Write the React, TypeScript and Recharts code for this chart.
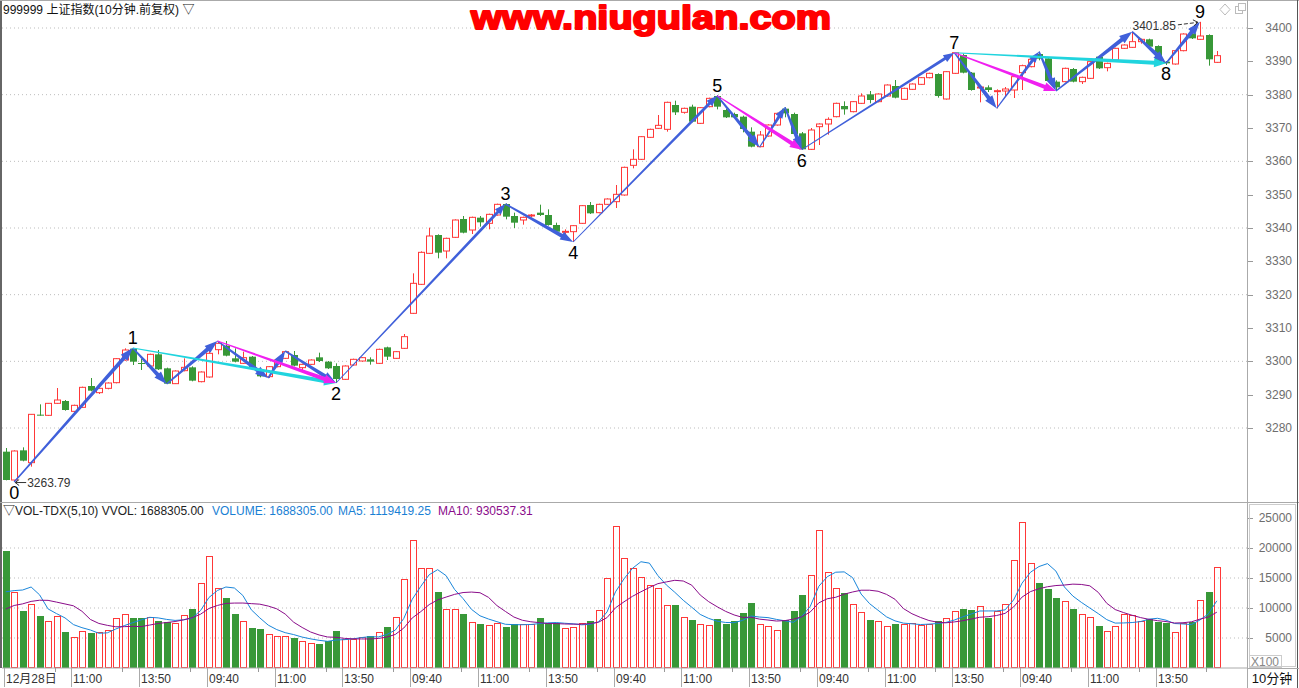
import React from "react";
import {
  ComposedChart,
  Bar,
  Line,
  XAxis,
  YAxis,
  CartesianGrid,
  ReferenceLine,
  ReferenceDot,
} from "recharts";

// 10-minute bars, 6 sessions x 24 bars
const OPEN = [
  3272.9, 3264.4, 3273.3, 3269.6, 3284.0, 3283.8, 3287.4, 3288.1, 3285.0, 3286.2,
  3292.6, 3290.6, 3291.9, 3293.6, 3300.4, 3303.8, 3299.5, 3298.6, 3302.1, 3297.9,
  3293.3, 3297.2, 3298.2, 3293.9, 3295.3, 3303.5, 3304.7, 3300.9, 3299.4, 3301.4,
  3297.5, 3295.4, 3298.4, 3300.9, 3301.9, 3298.1, 3299.1, 3301.2, 3299.9, 3298.6,
  3294.6, 3298.9, 3300.1, 3300.6, 3299.4, 3304.2, 3300.9, 3303.9, 3314.4, 3323.1,
  3332.4, 3337.9, 3333.1, 3337.2, 3342.7, 3339.4, 3343.1, 3341.4, 3343.9, 3347.2,
  3343.6, 3342.4, 3343.7, 3344.6, 3343.9, 3340.9, 3338.8, 3338.9, 3341.4, 3346.9,
  3344.6, 3347.1, 3347.9, 3349.9, 3358.8, 3360.6, 3367.2, 3369.9, 3369.6, 3376.9,
  3374.7, 3376.4, 3371.4, 3376.4, 3379.6, 3375.4, 3374.2, 3373.4, 3368.9, 3364.4,
  3367.6, 3370.9, 3375.8, 3374.2, 3368.4, 3363.6, 3370.4, 3371.2, 3373.4, 3376.6,
  3374.9, 3377.4, 3380.1, 3377.9, 3379.6, 3382.6, 3378.6, 3381.6, 3383.1, 3385.1,
  3386.2, 3378.7, 3386.4, 3391.9, 3386.6, 3382.0, 3382.2, 3380.9, 3381.1, 3381.4,
  3386.6, 3388.4, 3392.2, 3390.9, 3383.9, 3383.9, 3387.7, 3383.9, 3384.9, 3391.4,
  3388.1, 3390.4, 3393.9, 3394.2, 3395.9, 3396.6, 3394.6, 3389.9, 3389.2, 3393.2,
  3398.4, 3396.6, 3397.9, 3389.7,
];
const HIGH = [
  3274.0, 3273.3, 3274.2, 3284.2, 3287.1, 3287.5, 3292.0, 3288.4, 3287.0, 3292.4,
  3295.0, 3292.1, 3293.7, 3301.0, 3303.9, 3304.0, 3300.7, 3302.3, 3303.4, 3298.1,
  3297.3, 3300.9, 3298.5, 3297.0, 3304.4, 3306.1, 3306.1, 3303.9, 3302.9, 3301.6,
  3297.8, 3298.6, 3300.6, 3303.1, 3303.1, 3299.3, 3300.6, 3302.6, 3300.1, 3299.4,
  3298.8, 3300.8, 3301.3, 3301.2, 3303.8, 3304.4, 3303.1, 3308.2, 3326.4, 3333.0,
  3340.1, 3338.1, 3337.1, 3342.6, 3343.6, 3343.4, 3343.6, 3344.3, 3347.3, 3347.4,
  3344.6, 3343.4, 3344.2, 3347.0, 3345.6, 3341.6, 3339.6, 3340.9, 3346.9, 3347.8,
  3347.3, 3348.9, 3352.9, 3358.4, 3363.6, 3367.6, 3369.8, 3373.9, 3377.9, 3378.2,
  3376.1, 3377.0, 3376.3, 3379.1, 3379.9, 3375.8, 3374.6, 3373.7, 3370.2, 3369.1,
  3371.1, 3374.6, 3376.2, 3374.6, 3368.8, 3370.0, 3371.4, 3373.2, 3377.6, 3378.0,
  3378.1, 3380.4, 3381.1, 3380.4, 3383.1, 3384.4, 3382.1, 3383.4, 3385.3, 3386.6,
  3386.4, 3387.1, 3392.7, 3392.3, 3386.8, 3382.5, 3382.8, 3381.6, 3382.3, 3385.9,
  3389.0, 3390.8, 3392.9, 3391.3, 3384.3, 3388.1, 3388.0, 3385.4, 3390.1, 3391.6,
  3389.6, 3394.1, 3395.1, 3398.9, 3396.8, 3396.8, 3394.8, 3390.1, 3393.4, 3398.4,
  3399.9, 3401.85, 3398.1, 3393.1,
];
const LOW = [
  3264.3, 3263.79, 3270.0, 3268.4, 3283.7, 3283.6, 3287.2, 3285.2, 3284.5, 3286.0,
  3291.0, 3290.2, 3291.6, 3293.4, 3300.2, 3298.9, 3297.4, 3298.4, 3297.4, 3293.2,
  3293.2, 3297.0, 3294.0, 3293.7, 3295.1, 3302.1, 3301.5, 3299.7, 3299.2, 3297.7,
  3295.2, 3295.0, 3298.2, 3300.7, 3298.5, 3297.4, 3298.9, 3299.8, 3297.7, 3293.5,
  3294.4, 3298.7, 3299.9, 3299.0, 3299.2, 3300.4, 3300.7, 3303.7, 3314.2, 3322.9,
  3332.2, 3330.9, 3330.9, 3337.0, 3338.4, 3338.2, 3340.4, 3339.6, 3343.7, 3342.6,
  3340.0, 3341.0, 3343.2, 3343.6, 3340.7, 3338.7, 3337.9, 3335.8, 3341.2, 3344.2,
  3344.4, 3346.9, 3346.0, 3349.7, 3357.9, 3360.4, 3367.0, 3369.7, 3368.9, 3373.9,
  3374.3, 3371.7, 3371.2, 3376.2, 3375.6, 3373.0, 3373.0, 3368.7, 3364.2, 3364.2,
  3367.4, 3370.7, 3373.2, 3368.0, 3363.5, 3363.4, 3364.9, 3368.0, 3373.2, 3374.0,
  3374.7, 3377.2, 3377.4, 3377.7, 3379.4, 3378.9, 3378.4, 3381.4, 3382.9, 3384.9,
  3379.1, 3378.5, 3386.2, 3386.4, 3381.2, 3377.7, 3380.8, 3375.9, 3379.3, 3379.0,
  3381.4, 3388.2, 3390.3, 3383.9, 3381.1, 3383.7, 3383.7, 3383.2, 3384.7, 3387.7,
  3387.0, 3390.2, 3393.7, 3394.0, 3395.3, 3394.2, 3389.7, 3388.9, 3389.0, 3393.0,
  3396.7, 3396.4, 3388.7, 3389.5,
];
const CLOSE = [
  3264.4, 3273.1, 3270.2, 3284.1, 3283.9, 3287.4, 3288.4, 3285.4, 3286.8, 3292.2,
  3291.2, 3291.9, 3293.5, 3300.8, 3303.4, 3299.9, 3299.3, 3302.1, 3297.6, 3293.3,
  3297.1, 3298.2, 3294.2, 3296.8, 3302.4, 3305.4, 3301.7, 3299.9, 3301.1, 3297.9,
  3295.5, 3298.4, 3300.4, 3302.9, 3298.7, 3299.1, 3300.4, 3300.1, 3297.9, 3294.7,
  3298.6, 3300.6, 3301.1, 3299.9, 3303.6, 3301.4, 3302.9, 3307.4, 3323.4, 3332.7,
  3337.6, 3332.6, 3336.9, 3342.4, 3338.6, 3343.2, 3341.7, 3344.1, 3347.1, 3343.4,
  3341.6, 3343.2, 3343.9, 3343.9, 3340.9, 3338.9, 3339.0, 3340.7, 3346.7, 3344.4,
  3347.1, 3348.7, 3350.1, 3358.2, 3360.6, 3367.4, 3369.6, 3370.8, 3377.7, 3374.7,
  3375.9, 3371.9, 3376.1, 3378.9, 3376.4, 3373.2, 3373.2, 3369.7, 3364.4, 3367.9,
  3370.9, 3374.4, 3374.4, 3368.2, 3363.6, 3369.4, 3371.2, 3372.6, 3377.4, 3375.6,
  3377.9, 3379.6, 3378.4, 3380.2, 3382.9, 3379.1, 3381.9, 3383.2, 3385.1, 3386.4,
  3379.6, 3386.9, 3392.6, 3386.6, 3381.4, 3382.3, 3381.4, 3381.2, 3381.7, 3385.4,
  3388.7, 3390.6, 3390.8, 3384.1, 3382.2, 3387.9, 3383.9, 3385.2, 3389.9, 3387.9,
  3389.4, 3393.9, 3394.9, 3395.9, 3396.6, 3394.4, 3389.9, 3389.4, 3393.2, 3398.2,
  3396.9, 3397.6, 3390.6, 3391.7,
];
// volume in units of 100 (X100)
const VOLUME = [
  19500, 12600, 9500, 10700, 8670, 7780, 8670, 5940, 5110, 6110,
  5830, 5940, 6330, 8280, 8940, 8280, 8280, 8440, 7830, 7670,
  7440, 8780, 9830, 14110, 18610, 13280, 11670, 9000, 7890, 6670,
  6560, 5610, 5280, 5330, 5060, 4500, 4110, 4060, 4500, 6170,
  4780, 4780, 5110, 5280, 5940, 6830, 8440, 14780, 21280, 16610,
  16610, 12670, 9780, 9780, 9000, 7610, 7330, 7110, 7560, 6830,
  7280, 7280, 7280, 8330, 7440, 7560, 6670, 6830, 7500, 7830,
  9610, 14940, 23610, 18280, 16610, 15110, 13780, 13280, 10440, 10500,
  8440, 8000, 7280, 7110, 8170, 7390, 7830, 9170, 10780, 7280,
  6940, 6330, 8000, 9500, 12170, 15440, 22940, 16000, 13280, 12440,
  10610, 9280, 8000, 7780, 6940, 7280, 7390, 7440, 7170, 7280,
  7780, 8280, 9440, 9830, 9670, 10280, 8330, 9440, 10720, 17940,
  24280, 17440, 14170, 13170, 11670, 11110, 9830, 8940, 8440, 7000,
  6110, 6940, 9060, 8780, 7800, 8170, 7600, 7500, 6000, 7440,
  7670, 11400, 12600, 16883,
];
// bars of the previous session, only used to seed the moving averages
const PRIOR_VOLUME = [6700, 6800, 6600, 6700, 8000, 11600, 9000, 8200, 15200];

const PRICE_TICKS = [3280, 3290, 3300, 3310, 3320, 3330, 3340, 3350, 3360, 3370, 3380, 3390, 3400];
const PRICE_GRID = [3280, 3300, 3320, 3340, 3360, 3380, 3400];
const VOLUME_TICKS = [5000, 10000, 15000, 20000, 25000];
const VOLUME_GRID = [5000, 10000, 15000, 20000];

const X_TICKS = [0, 8, 16, 24, 32, 40, 48, 56, 64, 72, 80, 88, 96, 104, 112, 120, 128, 136];
const X_TICK_LABELS = [
  "12月28日", "11:00", "13:50", "09:40", "11:00", "13:50",
  "09:40", "11:00", "13:50", "09:40", "11:00", "13:50",
  "09:40", "11:00", "13:50", "09:40", "11:00", "13:50",
];
const X_MINOR_TICKS = [6, 14, 22, 30, 38, 46, 54, 62, 70, 78, 86, 94, 102, 110, 118, 126, 134, 142];

// wave count 0..9
const WAVE_BARS = [1, 15, 39, 59, 67, 84, 94, 112, 137, 141];
const WAVE_PRICES = [3263.79, 3304.0, 3293.5, 3347.2, 3335.8, 3379.7, 3363.5, 3392.6, 3389.4, 3401.85];
const WAVE_LABELS = ["0", "1", "2", "3", "4", "5", "6", "7", "8", "9"];
const WAVE_IS_TOP = [false, true, false, true, false, true, false, true, false, true];

// blue arrows: [fromBar, fromPrice, toBar, toPrice, heavy]
const BLUE_ARROWS: [number, number, number, number, number][] = [
  [1, 3263.79, 15, 3304.0, 1],
  [15, 3304.0, 19, 3293.2, 1],
  [19, 3293.2, 25, 3306.1, 1],
  [25, 3306.1, 31, 3295.0, 1],
  [31, 3295.0, 33, 3303.1, 1],
  [33, 3303.1, 39, 3293.5, 1],
  [39, 3293.5, 59, 3347.2, 0],
  [59, 3347.2, 67, 3335.8, 1],
  [67, 3335.8, 84, 3379.7, 0],
  [84, 3379.7, 89, 3364.2, 1],
  [89, 3364.2, 92, 3376.2, 0],
  [92, 3376.2, 94, 3363.5, 1],
  [94, 3363.5, 112, 3392.6, 0],
  [112, 3392.6, 117, 3375.9, 1],
  [117, 3375.9, 122, 3392.9, 0],
  [122, 3392.9, 124, 3381.1, 1],
  [124, 3381.1, 133, 3398.9, 1],
  [133, 3398.9, 137, 3389.4, 1],
  [137, 3389.4, 141, 3401.85, 1],
];
const CYAN_ARROWS: [number, number, number, number][] = [
  [15, 3304.0, 39, 3293.5],
  [112, 3392.6, 137, 3389.4],
];
const MAGENTA_ARROWS: [number, number, number, number][] = [
  [25, 3306.1, 39, 3293.5],
  [84, 3379.7, 94, 3363.5],
  [112, 3392.6, 124, 3381.1],
];

const RED = "#FF3838";
const GREEN = "#389838";
const BLUE = "#4060DA";
const CYAN = "#20D4DE";
const MAGENTA = "#F020F0";
const MA5_COLOR = "#1A86DA";
const MA10_COLOR = "#8A0C8A";
const FONT = "'Liberation Sans', Arial, 'Noto Sans CJK SC', sans-serif";

const X_DOMAIN = [-0.437, 146.56];

const movingAvg = (n: number, idx: number) => {
  const all = [...PRIOR_VOLUME, ...VOLUME];
  const j = idx + PRIOR_VOLUME.length;
  let s = 0;
  for (let k = j - n + 1; k <= j; k++) s += all[k];
  return s / n;
};

const data = OPEN.map((o, i) => ({
  i,
  open: o,
  high: HIGH[i],
  low: LOW[i],
  close: CLOSE[i],
  range: [LOW[i], HIGH[i]],
  vol: VOLUME[i],
  ma5: movingAvg(5, i),
  ma10: movingAvg(10, i),
  up: CLOSE[i] >= o,
}));

function Candle(props: any) {
  const { x, y, width, height, payload } = props;
  if (x == null || y == null) return null;
  const top = Math.min(y, y + height);
  const h = Math.abs(height);
  const { open, close, high, low, up } = payload;
  const k = h / (high - low);
  const py = (p: number) => top + (high - p) * k;
  const c = Math.round(x + width / 2);
  const bTop = py(Math.max(open, close));
  const bBot = py(Math.min(open, close));
  const color = up ? RED : GREEN;
  const bh = Math.max(1, bBot - bTop);
  return (
    <g>
      <line x1={c + 0.5} x2={c + 0.5} y1={py(high)} y2={py(low)} stroke={color} strokeWidth={1} />
      {up ? (
        <rect x={c - 2.5} y={bTop} width={6} height={bh} fill="#fff" stroke={color} strokeWidth={1} />
      ) : (
        <rect x={c - 3} y={bTop} width={7} height={bh} fill={color} />
      )}
    </g>
  );
}

function VolBar(props: any) {
  const { x, y, width, height, payload } = props;
  if (x == null || y == null) return null;
  const c = Math.round(x + width / 2);
  const top = Math.round(Math.min(y, y + height));
  const h = Math.round(Math.abs(height));
  return payload.up ? (
    <rect x={c - 2.5} y={top + 0.5} width={6} height={h - 1} fill="none" stroke={RED} strokeWidth={1} />
  ) : (
    <rect x={c - 3} y={top} width={7} height={h} fill={GREEN} />
  );
}

const arrowShape = (color: string, w0: number, w1: number, head: number, hw: number) => (props: any) => {
  const { x1, y1, x2, y2 } = props;
  if ([x1, y1, x2, y2].some((v) => v == null || isNaN(v))) return <g />;
  const dx = x2 - x1;
  const dy = y2 - y1;
  const len = Math.hypot(dx, dy) || 1;
  const ux = dx / len;
  const uy = dy / len;
  const nx = -uy;
  const ny = ux;
  const bx = x2 - ux * head;
  const by = y2 - uy * head;
  const pts = [
    [x1 + (nx * w0) / 2, y1 + (ny * w0) / 2],
    [bx + (nx * w1) / 2, by + (ny * w1) / 2],
    [bx + nx * hw, by + ny * hw],
    [x2, y2],
    [bx - nx * hw, by - ny * hw],
    [bx - (nx * w1) / 2, by - (ny * w1) / 2],
    [x1 - (nx * w0) / 2, y1 - (ny * w0) / 2],
  ];
  return <polygon points={pts.map((p) => p.join(",")).join(" ")} fill={color} />;
};

const heavyBlue = arrowShape(BLUE, 1.5, 4, 13, 4.5);
const lightBlue = arrowShape(BLUE, 1, 3, 11, 4);
const cyanArrow = arrowShape(CYAN, 1, 4, 12, 4.5);
const magentaArrow = arrowShape(MAGENTA, 1, 4, 12, 4.5);

const waveLabel = (label: string, isTop: boolean) => (props: any) => {
  const { cx, cy } = props;
  return (
    <text x={cx} y={isTop ? cy - 4 : cy + 17} textAnchor="middle" fontSize={18} fill="#000" fontFamily={FONT}>
      {label}
    </text>
  );
};

const lowNote = (props: any) => {
  const { cx, cy } = props;
  return (
    <g fontFamily={FONT}>
      <line x1={cx + 1} x2={cx + 12} y1={cy + 0.5} y2={cy + 0.5} stroke="#333" />
      <polyline points={`${cx + 5},${cy - 2.5} ${cx + 1},${cy + 0.5} ${cx + 5},${cy + 3.5}`} fill="none" stroke="#333" />
      <text x={cx + 13} y={cy + 5} fontSize={12} fill="#333">
        3263.79
      </text>
    </g>
  );
};

const highNote = (props: any) => {
  const { cx, cy } = props;
  return (
    <g fontFamily={FONT}>
      <text x={cx - 24} y={cy + 8} fontSize={12} fill="#333" textAnchor="end">
        3401.85
      </text>
      <line x1={cx - 22} y1={cy + 3} x2={cx - 2} y2={cy + 0.5} stroke="#333" strokeDasharray="4 2" />
      <polyline points={`${cx - 7},${cy - 2} ${cx - 2},${cy + 0.5} ${cx - 6},${cy + 4}`} fill="none" stroke="#333" />
    </g>
  );
};

function PriceTick(props: any) {
  const { x, y, payload } = props;
  const yy = Math.round(y) + 0.5;
  return (
    <g>
      <line x1={x + 1} x2={x + 6} y1={yy} y2={yy} stroke="#999" />
      <text x={x + 45} y={y + 4} textAnchor="end" fontSize={12} fill="#6e6e6e" fontFamily={FONT}>
        {payload.value}
      </text>
    </g>
  );
}

function TimeTick(props: any) {
  const { x, y, payload } = props;
  const idx = X_TICKS.indexOf(payload.value);
  const c = Math.round(x);
  if (idx < 0) {
    return <line x1={c - 1.5} x2={c - 1.5} y1={y} y2={y + 4} stroke="#999" />;
  }
  return (
    <g>
      <line x1={c - 1.5} x2={c - 1.5} y1={y} y2={y + 19} stroke="#aaa" />
      <text x={c} y={y + 15} fontSize={12} fill="#333" fontFamily={FONT}>
        {X_TICK_LABELS[idx]}
      </text>
    </g>
  );
}

export default function App() {
  return (
    <div
      style={{
        position: "absolute",
        left: 0,
        top: 0,
        width: 1299,
        height: 688,
        background: "#fff",
        overflow: "hidden",
        fontFamily: FONT,
      }}
    >
      <div style={{ position: "absolute", left: 0, top: 0 }}>
        <ComposedChart width={1299} height={502} data={data} margin={{ top: 0, right: 0, bottom: 0, left: 2 }}>
          <CartesianGrid vertical={false} horizontalValues={PRICE_GRID} stroke="#bdbdbd" strokeDasharray="1 3" />
          <XAxis dataKey="i" type="number" domain={X_DOMAIN} allowDataOverflow hide />
          <YAxis
            orientation="right"
            width={52}
            domain={[3257.8, 3408.4]}
            allowDataOverflow
            ticks={PRICE_TICKS}
            interval={0}
            axisLine={false}
            tickLine={false}
            tickSize={0}
            tickMargin={0}
            tick={<PriceTick />}
          />
          <Bar dataKey="range" barSize={7} shape={<Candle />} isAnimationActive={false} />
          {BLUE_ARROWS.map((a, k) => (
            <ReferenceLine
              key={`b${k}`}
              segment={[
                { x: a[0], y: a[1] },
                { x: a[2], y: a[3] },
              ]}
              shape={a[4] ? heavyBlue : lightBlue}
            />
          ))}
          {CYAN_ARROWS.map((a, k) => (
            <ReferenceLine
              key={`c${k}`}
              segment={[
                { x: a[0], y: a[1] },
                { x: a[2], y: a[3] },
              ]}
              shape={cyanArrow}
            />
          ))}
          {MAGENTA_ARROWS.map((a, k) => (
            <ReferenceLine
              key={`m${k}`}
              segment={[
                { x: a[0], y: a[1] },
                { x: a[2], y: a[3] },
              ]}
              shape={magentaArrow}
            />
          ))}
          {WAVE_BARS.map((b, k) => (
            <ReferenceDot
              key={`w${k}`}
              x={b}
              y={WAVE_PRICES[k]}
              r={0}
              shape={waveLabel(WAVE_LABELS[k], WAVE_IS_TOP[k])}
            />
          ))}
          <ReferenceDot x={WAVE_BARS[0]} y={WAVE_PRICES[0]} r={0} shape={lowNote} />
          <ReferenceDot x={WAVE_BARS[9]} y={WAVE_PRICES[9]} r={0} shape={highNote} />
        </ComposedChart>
      </div>

      <div style={{ position: "absolute", left: 0, top: 502 }}>
        <ComposedChart width={1299} height={186} data={data} margin={{ top: 0, right: 0, bottom: 0, left: 2 }}>
          <CartesianGrid vertical={false} horizontalValues={VOLUME_GRID} stroke="#bdbdbd" strokeDasharray="1 3" />
          <XAxis
            dataKey="i"
            type="number"
            domain={X_DOMAIN}
            allowDataOverflow
            ticks={[...X_TICKS, ...X_MINOR_TICKS]}
            interval={0}
            height={20}
            axisLine={{ stroke: "#aaa" }}
            tickLine={false}
            tickSize={0}
            tickMargin={0}
            tick={<TimeTick />}
          />
          <YAxis
            orientation="right"
            width={52}
            domain={[0, 27667]}
            allowDataOverflow
            ticks={VOLUME_TICKS}
            interval={0}
            axisLine={false}
            tickLine={false}
            tickSize={0}
            tickMargin={0}
            tick={<PriceTick />}
          />
          <Bar dataKey="vol" barSize={7} shape={<VolBar />} isAnimationActive={false} />
          <Line dataKey="ma5" stroke={MA5_COLOR} strokeWidth={1} dot={false} isAnimationActive={false} />
          <Line dataKey="ma10" stroke={MA10_COLOR} strokeWidth={1} dot={false} isAnimationActive={false} />
        </ComposedChart>
      </div>

      {/* frame, headers and decorations */}
      <svg width={1299} height={688} style={{ position: "absolute", left: 0, top: 0, pointerEvents: "none" }}>
        <rect x={0} y={0} width={2} height={668} fill="#666" />
        <line x1={0} x2={1299} y1={0.5} y2={0.5} stroke="#aaa" />
        <line x1={0} x2={1299} y1={502.5} y2={502.5} stroke="#aaa" />
        <line x1={1247.5} x2={1247.5} y1={0} y2={688} stroke="#aaa" />
        <line x1={1297.5} x2={1297.5} y1={0} y2={688} stroke="#555" />
        <line x1={1247} x2={1299} y1={668.5} y2={668.5} stroke="#aaa" />
        <rect x={1249.5} y={504.5} width={46} height={162} fill="none" stroke="#ccc" />
        <rect x={1249.5} y={655.5} width={32} height={12} fill="none" stroke="#ccc" />
        <text x={1251} y={666} fontSize={12} fill="#888" fontFamily={FONT}>
          X100
        </text>
        <text x={1272} y={683} fontSize={13} fill="#111" textAnchor="middle" fontFamily={FONT}>
          10分钟
        </text>
        <text x={3} y={14} fontSize={12} fill="#111" fontFamily={FONT}>
          999999 上证指数(10分钟.前复权) ▽
        </text>
        <text x={3} y={515} fontSize={12} fill="#222" fontFamily={FONT}>
          ▽VOL-TDX(5,10) VVOL: 1688305.00
        </text>
        <text x={212} y={515} fontSize={12} fill="#1a7fd4" fontFamily={FONT}>
          VOLUME: 1688305.00
        </text>
        <text x={338} y={515} fontSize={12} fill="#1a7fd4" fontFamily={FONT}>
          MA5: 1119419.25
        </text>
        <text x={438} y={515} fontSize={12} fill="#8a0c8a" fontFamily={FONT}>
          MA10: 930537.31
        </text>
        <polygon points="1225,4 1230,9.5 1225,15 1220,9.5" fill="none" stroke="#bbb" />
        <rect x={1235.5} y={6.5} width={7} height={7} fill="#fff" stroke="#bbb" />
        <rect x={1238.5} y={3.5} width={7} height={7} fill="#fff" stroke="#bbb" />
        <text
          x={471}
          y={29}
          fontSize={33}
          fontWeight="bold"
          fill="#ff0000"
          stroke="#ff0000"
          strokeWidth={2}
          strokeLinejoin="round"
          textLength={360}
          lengthAdjust="spacingAndGlyphs"
          fontFamily="'Liberation Sans', Arial, sans-serif"
        >
          www.niugulan.com
        </text>
      </svg>
    </div>
  );
}
